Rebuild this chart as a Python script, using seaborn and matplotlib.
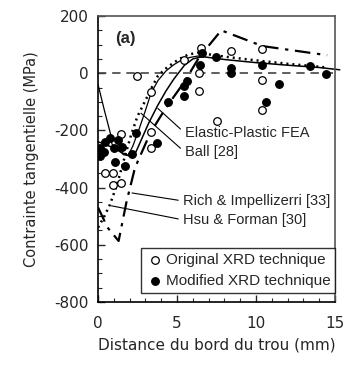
import numpy as np
import matplotlib
matplotlib.use("Agg")
import matplotlib.pyplot as plt
import seaborn as sns

# courbes
fea_x = [0, 0.5, 1.0, 1.5, 2.0, 2.4, 2.8, 3.2, 3.78, 4.3, 4.8, 5.47, 6.0, 6.6, 8.0, 10.0, 12.0, 14.0, 15.3]
fea_y = [-240, -250, -262, -278, -290, -275, -225, -175, -112, -62, -20, 28, 50, 58, 48, 37, 28, 20, 12]
ball_x = [0, 0.4, 0.8, 1.2, 1.6, 1.9, 2.2, 2.6, 3.0, 3.35, 3.8, 4.3, 4.8, 5.25, 5.8, 6.3, 6.7]
ball_y = [-40, -130, -215, -260, -285, -288, -255, -195, -130, -70, -25, 8, 30, 45, 55, 60, 58]
rich_x = [0, 0.6, 1.3, 1.8, 2.3, 2.5, 3.3, 4.0, 4.5, 5.47, 6.4, 7.8, 10.4, 14.5]
rich_y = [-470, -540, -587, -450, -339, -310, -210, -147, -105, -30, 56, 150, 95, 63]
hsu_x = [0, 0.4, 0.74, 1.2, 1.6, 2.09, 2.5, 3.0, 3.4, 3.78, 4.4, 5.15, 5.7, 6.3, 7.0, 8.3, 10.0, 12.0, 14.5]
hsu_y = [-540, -500, -461, -390, -310, -216, -150, -95, -50, -10, 22, 50, 65, 72, 66, 56, 45, 33, 20]

# points XRD
orig_x = [2.45, 3.38, 5.42, 6.5, 8.44, 10.4, 6.39, 10.4, 6.39, 10.4, 7.5,
          1.48, 3.38, 3.38, 0.42, 0.95, 0.95, 1.48, 1.06]
orig_y = [-10, -65, 48, 88, 78, 86, 1, -24, -62, -127, -167,
          -211, -205, -263, -350, -350, -391, -385, -240]
mod_x = [6.6, 7.45, 8.44, 8.44, 10.4, 11.46, 10.66, 13.4, 14.4, 6.44, 5.65, 5.42, 5.45, 4.4,
         0.1, 0.15, 0.45, 0.75, 1.27, 1.0, 1.5, 1.06, 1.7, 2.15, 2.43, 3.75, 0.4]
mod_y = [72, 57, 18, 2, 28, -36, -100, 26, -3, 28, -27, -45, -79, -100,
         -262, -290, -240, -228, -234, -262, -257, -310, -325, -284, -208, -244, -275]

labels = ["Elastic-Plastic FEA", "Ball [28]", "Rich & Impellizerri [33]", "Hsu & Forman [30]"]
label_xy = [(3.78, -123), (2.72, -140), (2.15, -419), (0.85, -464)]
label_text_xy = [(5.49, -209), (5.49, -276), (5.37, -447), (5.37, -513)]

sns.set_style("ticks")
plt.rcParams["font.family"] = ["DejaVu Sans"]
plt.rcParams["axes.unicode_minus"] = False

fig = plt.figure(figsize=(3.49, 3.65), dpi=100)
ax = fig.add_axes([0.281, 0.173, 0.679, 0.783])

ax.axhline(0, color="#444444", lw=1.2, linestyle=(0, (5, 3.5)), zorder=1)

sns.lineplot(x=fea_x, y=fea_y, ax=ax, color="black", lw=1.1, sort=False, estimator=None, clip_on=False)
sns.lineplot(x=ball_x, y=ball_y, ax=ax, color="black", lw=0.9, sort=False, estimator=None)
sns.lineplot(x=rich_x, y=rich_y, ax=ax, color="black", lw=1.6, sort=False, estimator=None,
             linestyle=(0, (7, 3, 1.5, 3)))
sns.lineplot(x=hsu_x, y=hsu_y, ax=ax, color="black", lw=1.8, sort=False, estimator=None,
             linestyle=(0, (0.8, 1.6)))

sns.scatterplot(x=orig_x, y=orig_y, ax=ax, marker="o", s=30, facecolor="white",
                edgecolor="black", linewidth=0.9, zorder=5, label="Original XRD technique")
sns.scatterplot(x=mod_x, y=mod_y, ax=ax, marker="o", s=30, color="black",
                edgecolor="black", linewidth=0.9, zorder=5, label="Modified XRD technique")

for lab, xy, xt in zip(labels, label_xy, label_text_xy):
    ax.annotate(lab, xy=xy, xytext=xt, ha="left", va="center", fontsize=10.5,
                family="Liberation Sans",
                arrowprops=dict(arrowstyle="-", lw=0.8, color="black",
                                shrinkA=1, shrinkB=0, relpos=(0, 0.5)))

ax.text(0.07, 0.92, "(a)", transform=ax.transAxes, fontsize=12, family="Liberation Sans",
        fontweight="bold", ha="left", va="center")

ax.set_xlim(0, 15)
ax.set_ylim(-800, 200)
ax.set_xticks([0, 5, 10, 15])
ax.set_xticks(np.arange(0, 16, 1), minor=True)
ax.set_yticks(np.arange(-800, 201, 200))
ax.set_yticks(np.arange(-800, 201, 50), minor=True)
ax.tick_params(axis="both", which="major", direction="in", length=5, width=1, labelsize=11, pad=7)
ax.tick_params(axis="x", which="major", pad=10)
ax.tick_params(axis="both", which="minor", direction="in", length=3, width=0.8)
for s in ax.spines.values():
    s.set_linewidth(1.2)
    s.set_color("#555555")
ax.spines["left"].set_color("black")
ax.spines["bottom"].set_color("black")

ax.set_xlabel("Distance du bord du trou (mm)", fontsize=11, labelpad=5)
ax.set_ylabel("Contrainte tangentielle (MPa)", fontsize=10.5, labelpad=11)

leg = ax.legend(loc="lower right", bbox_to_anchor=(1.0, 0.031), borderaxespad=0,
                prop={"family": "Liberation Sans", "size": 11}, frameon=True, fancybox=False,
                handletextpad=0.1, handlelength=1.2, borderpad=0.3, labelspacing=0.5)
leg.get_frame().set_edgecolor("black")
leg.get_frame().set_linewidth(1.0)

fig.savefig("out.png", dpi=100)
